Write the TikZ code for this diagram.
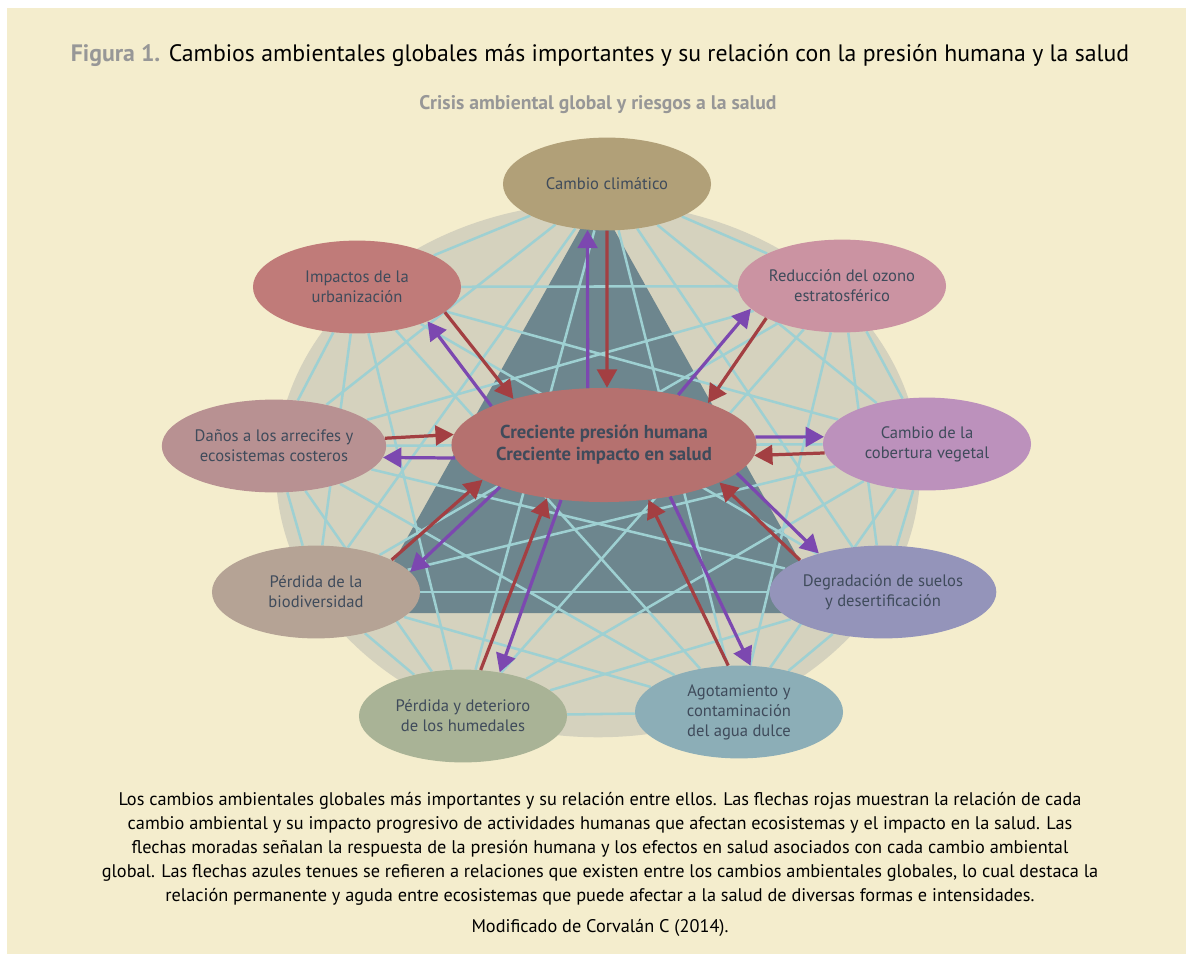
\documentclass[tikz,border=0pt]{standalone}
\usepackage{fontspec}
\setmainfont{PT Sans}
\usetikzlibrary{shapes.geometric,arrows.meta}
\pgfdeclarelayer{back}
\pgfsetlayers{back,main}

\definecolor{panel}{HTML}{F4EDCD}
\definecolor{disc}{HTML}{D5D2BE}
\definecolor{wedge}{HTML}{6D868E}
\definecolor{linkblue}{HTML}{9ED0D2}
\definecolor{inktext}{HTML}{3F4B5B}
\definecolor{greytitle}{HTML}{979797}
\definecolor{arrowred}{HTML}{A33F42}
\definecolor{arrowviolet}{HTML}{7C48B0}
\definecolor{ccfill}{HTML}{B1A078}
\definecolor{urbfill}{HTML}{C07B79}
\definecolor{ozofill}{HTML}{CB93A2}
\definecolor{arrfill}{HTML}{B89192}
\definecolor{covfill}{HTML}{BC91BC}
\definecolor{biofill}{HTML}{B5A395}
\definecolor{degfill}{HTML}{9494BA}
\definecolor{humfill}{HTML}{A9B396}
\definecolor{agufill}{HTML}{8CAEB7}
\definecolor{ctrfill}{HTML}{B5716F}

\begin{document}
\begin{tikzpicture}
  [x=0.025cm,y=-0.025cm,
   change/.style={ellipse,minimum width=5.2cm,minimum height=2.32cm,inner sep=0pt,
     align=center,text=inktext,font=\fontsize{11.8}{14.2}\selectfont},
   hub/.style={ellipse,fill=ctrfill,minimum width=6.23cm,minimum height=2.85cm,inner sep=0pt,
     align=center,text=inktext,font=\bfseries\fontsize{13.3}{15.5}\selectfont},
   label/.style={inner sep=0pt,align=center},
   bluelink/.style={line width=1.8pt,draw=linkblue},
   redarrow/.style={line width=2.3pt,draw=arrowred,-{Triangle[length=13pt,width=14pt]}},
   violetarrow/.style={line width=2.3pt,draw=arrowviolet,-{Triangle[length=13pt,width=14pt]}}]

  \useasboundingbox (0,0) rectangle (1186,954);
  \begin{pgfonlayer}{back}
    \fill[white] (0,0) rectangle (1186,954);
    \fill[panel] (7,8) rectangle (1186,954);
  \end{pgfonlayer}

  % titles
  \node[label,font=\fontsize{16.9}{19}\selectfont] (title) at (600,55)
    {\textcolor{greytitle}{\bfseries Figura 1.} Cambios ambientales globales más importantes y su relación con la presión humana y la salud};
  \node[label,text=greytitle,font=\bfseries\fontsize{14}{16}\selectfont] (subtitle) at (598,105)
    {Crisis ambiental global y riesgos a la salud};

  % global changes
  \node[change,fill=ccfill] (cc) at (607,184) {Cambio climático};
  \node[change,fill=urbfill] (urb) at (357,287) {Impactos de la\\urbanización};
  \node[change,fill=ozofill] (ozo) at (842,286) {Reducción del ozono\\estratosférico};
  \node[change,fill=arrfill] (arr) at (274,446) {Daños a los arrecifes y\\ecosistemas costeros};
  \node[change,fill=covfill] (cov) at (927,444) {Cambio de la\\cobertura vegetal};
  \node[change,fill=biofill] (bio) at (316,592) {Pérdida de la\\biodiversidad};
  \node[change,fill=degfill] (deg) at (883,592) {Degradación de suelos\\y desertificación};
  \node[change,fill=humfill] (hum) at (463,716) {Pérdida y deterioro\\de los humedales};
  \node[change,fill=agufill] (agu) at (739,712) {Agotamiento y\\contaminación\\del agua dulce};

  \node[hub] (ctr) at (604,445) {Creciente presión humana\\Creciente impacto en salud};

  \begin{pgfonlayer}{back}
    \fill[disc] (598,470) ellipse [x radius=8.05cm, y radius=6.68cm];
    \fill[wedge] (597,199) -- (365,613) -- (829,613) -- cycle;
    \foreach \from/\to in {cc/urb,cc/ozo,cc/arr,cc/cov,cc/bio,cc/deg,cc/hum,cc/agu,
        urb/ozo,urb/arr,urb/cov,urb/bio,urb/deg,urb/hum,urb/agu,
        ozo/arr,ozo/cov,ozo/bio,ozo/deg,ozo/hum,ozo/agu,
        arr/cov,arr/bio,arr/deg,arr/hum,arr/agu,
        cov/bio,cov/deg,cov/hum,cov/agu,
        bio/deg,bio/hum,bio/agu,
        deg/hum,deg/agu,
        hum/agu}
      \draw[bluelink] (\from) -- (\to);
  \end{pgfonlayer}

  % pressure arrows
  \foreach \n/\a/\b in {cc/-90/87,urb/-16.8/153.4,ozo/203/22.6,arr/4.4/176.8,cov/185.7/-4.1,
      bio/23.4/196.6,deg/159.4/-18.6,hum/69.7/223.4,agu/103.4/-51.3}
    \draw[redarrow] (\n.\a) -- (ctr.\b);

  % response arrows
  \foreach \n/\a/\b in {cc/106/247.8,urb/161.9/-26.2,ozo/34.8/194.6,arr/185.5/-6.2,cov/3.7/176.6,
      bio/202.4/12.9,deg/-12.4/149.6,hum/232.6/50.7,agu/-38.8/76.3}
    \draw[violetarrow] (ctr.\a) -- (\n.\b);

  % caption
  \node[label,font=\fontsize{13}{17.1}\selectfont] (caption) at (600,849)
    {Los cambios ambientales globales más importantes y su relación entre ellos. Las flechas rojas muestran la relación de cada\\
     cambio ambiental y su impacto progresivo de actividades humanas que afectan ecosistemas y el impacto en la salud. Las\\
     flechas moradas señalan la respuesta de la presión humana y los efectos en salud asociados con cada cambio ambiental\\
     global. Las flechas azules tenues se refieren a relaciones que existen entre los cambios ambientales globales, lo cual destaca la\\
     relación permanente y aguda entre ecosistemas que puede afectar a la salud de diversas formas e intensidades.};
  \node[label,font=\fontsize{13}{15}\selectfont] (source) at (600,928) {Modificado de Corvalán C (2014).};
\end{tikzpicture}
\end{document}
